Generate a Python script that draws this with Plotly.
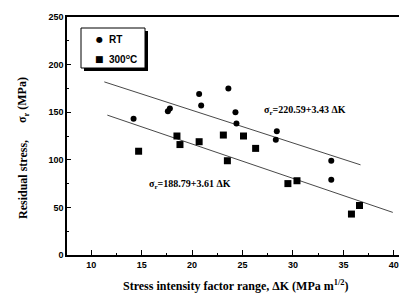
import plotly.graph_objects as go

# Data
rt_dk = [14.2, 17.6, 17.8, 20.7, 20.9, 23.6, 24.3, 24.4, 28.4, 28.3, 33.8, 33.8]
rt_sigma = [143, 151, 154, 169, 157, 175, 150, 138, 130, 121, 99, 79]

hot_dk = [14.7, 18.5, 18.8, 20.7, 23.1, 23.5, 25.1, 26.3, 29.5, 30.4, 35.8, 36.6]
hot_sigma = [109, 125, 116, 119, 126, 99, 125, 112, 75, 78, 43, 52]

# Linear fits as printed (intercept, slope magnitude) and fitted ΔK span
rt_fit = {"a": 220.59, "b": 3.43, "x": [11.3, 36.7]}
hot_fit = {"a": 188.79, "b": 3.61, "x": [11.6, 39.9]}

series_names = ["RT", "300<sup>o</sup>C"]
series_glyphs = ["●", "■"]

x_ticks = [10, 15, 20, 25, 30, 35, 40]
y_ticks = [0, 50, 100, 150, 200, 250]

W, H = 407, 294
L, R, T, B = 59, 0, 9, 47
PW, PH = W - L - R, H - T - B


def px(xp):
    return (xp - L) / PW


def py(yp):
    return (H - B - yp) / PH


fig = go.Figure()

for fit in (rt_fit, hot_fit):
    fig.add_trace(go.Scatter(
        x=fit["x"], y=[fit["a"] - fit["b"] * v for v in fit["x"]],
        mode="lines", line=dict(color="#333333", width=0.9),
        showlegend=False, hoverinfo="skip"))

fig.add_trace(go.Scatter(
    x=rt_dk, y=rt_sigma, mode="markers", name=series_names[0],
    marker=dict(symbol="circle", size=6, color="black"), showlegend=False))
fig.add_trace(go.Scatter(
    x=hot_dk, y=hot_sigma, mode="markers", name=series_names[1],
    marker=dict(symbol="square", size=7, color="black"), showlegend=False))

serif = "Liberation Serif"
sans = "Liberation Sans"

fig.update_layout(
    width=W, height=H,
    margin=dict(l=L, r=R, t=T, b=B),
    paper_bgcolor="white", plot_bgcolor="white",
    showlegend=False,
    xaxis=dict(
        range=[7.6, 42.1], tickvals=x_ticks,
        ticks="inside", ticklen=5, tickwidth=1, tickcolor="black",
        minor=dict(dtick=2.5, ticks="inside", ticklen=2, tickcolor="black"),
        showline=True, linecolor="black", linewidth=1.5, mirror=True,
        showgrid=False, zeroline=False,
        tickfont=dict(family=sans, size=9, color="black", weight="bold"),
    ),
    yaxis=dict(
        range=[0, 250], tickvals=y_ticks,
        ticks="inside", ticklen=4, tickwidth=1, tickcolor="black",
        minor=dict(dtick=25, ticks="inside", ticklen=2, tickcolor="black"),
        showline=True, linecolor="black", linewidth=1.5, mirror=False,
        showgrid=False, zeroline=False,
        tickfont=dict(family=sans, size=9, color="black", weight="bold"),
    ),
    font=dict(family=serif, color="black"),
)

# legend box with drop shadow
fig.add_shape(type="rect", xref="paper", yref="paper",
              x0=px(76), x1=px(140), y0=py(63), y1=py(23),
              fillcolor="black", line=dict(width=0), layer="above")
fig.add_shape(type="rect", xref="paper", yref="paper",
              x0=px(73), x1=px(137), y0=py(60), y1=py(20),
              fillcolor="white", line=dict(color="black", width=1), layer="above")
for i, (name, glyph) in enumerate(zip(series_names, series_glyphs)):
    yc = 31 + 20 * i
    fig.add_annotation(x=px(91), y=py(yc), xref="paper", yref="paper",
                       xanchor="center", yanchor="middle", showarrow=False,
                       text=glyph, font=dict(family="DejaVu Sans", size=8 if i == 0 else 9,
                                             color="black"))
    fig.add_annotation(x=px(99), y=py(yc), xref="paper", yref="paper",
                       xanchor="left", yanchor="middle", showarrow=False,
                       text="<b>" + name + "</b>",
                       font=dict(family=sans, size=10, color="black"))

fig.add_annotation(x=26.9, y=152, xref="x", yref="y", xanchor="left", yanchor="middle",
                   text="<b>σ<sub>r</sub>=220.59+3.43 ΔK</b>", showarrow=False,
                   font=dict(family=serif, size=10, color="black"))
fig.add_annotation(x=15.5, y=74, xref="x", yref="y", xanchor="left", yanchor="middle",
                   text="<b>σ<sub>r</sub>=188.79+3.61 ΔK</b>", showarrow=False,
                   font=dict(family=serif, size=10, color="black"))

# axis titles
fig.add_annotation(x=px(227), y=py(277), xref="paper", yref="paper",
                   xanchor="center", yanchor="middle",
                   text="<b>Stress intensity factor range, ΔK (MPa m<sup>1/2</sup>)</b>",
                   showarrow=False, font=dict(family=serif, size=12, color="black"))
fig.add_annotation(x=px(15), y=py(171), xref="paper", yref="paper",
                   xanchor="center", yanchor="middle", textangle=-90,
                   text="<b>Residual stress,</b>", showarrow=False,
                   font=dict(family=serif, size=12, color="black"))
fig.add_annotation(x=px(15), y=py(92), xref="paper", yref="paper",
                   xanchor="center", yanchor="middle", textangle=-90,
                   text="<b>σ<sub>r</sub> (MPa)</b>", showarrow=False,
                   font=dict(family=serif, size=12, color="black"))

fig.write_html("out.html")
